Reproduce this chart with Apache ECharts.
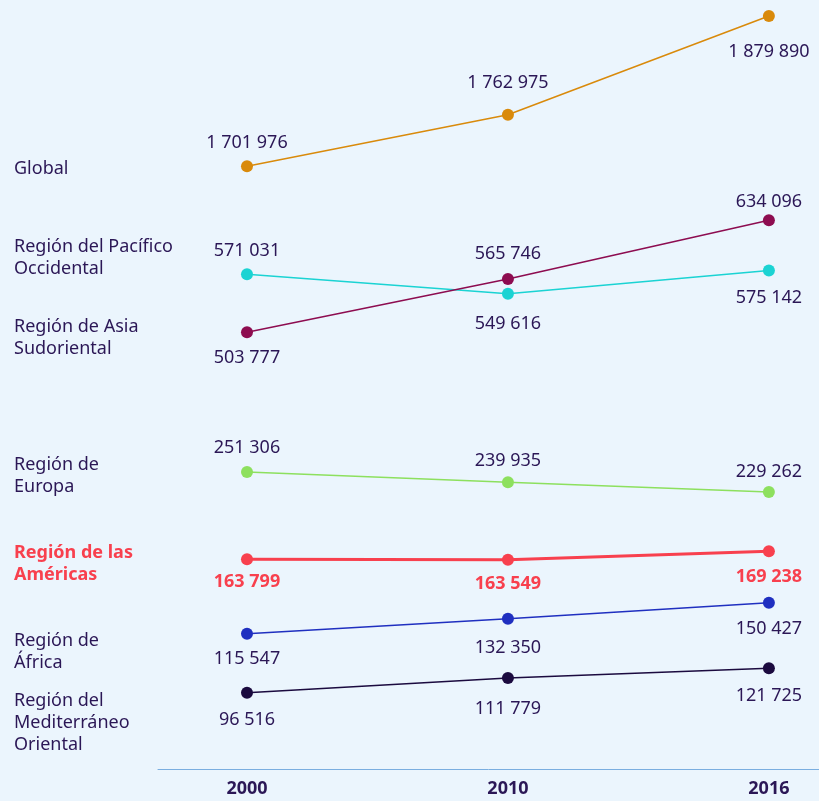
<!DOCTYPE html>
<html>
<head>
<meta charset="utf-8">
<script src="https://cdn.jsdelivr.net/npm/echarts@6/dist/echarts.min.js"></script>
<style>
    html, body { margin: 0; padding: 0; background: #ebf5fd; }
    #chart { width: 819px; height: 801px; }
</style>
</head>
<body>
<div id="chart"></div>
<script>
    // datos
    var years = ['2000', '2010', '2016'];
    var regions = [
        'Global',
        'Región del Pacífico\nOccidental',
        'Región de Asia\nSudoriental',
        'Región de\nEuropa',
        'Región de las\nAméricas',
        'Región de\nÁfrica',
        'Región del\nMediterráneo\nOriental'
    ];
    var globalVals = [1701976, 1762975, 1879890];
    var pacificoVals = [571031, 549616, 575142];
    var asiaVals = [503777, 565746, 634096];
    var europaVals = [251306, 239935, 229262];
    var americasVals = [163799, 163549, 169238];
    var africaVals = [115547, 132350, 150427];
    var mediterraneoVals = [96516, 111779, 121725];

    // layout: cada serie tiene su propio eje (escala partida)
    var colors = ['#d98a0b', '#1bd3d3', '#8d0c50', '#8de05e', '#f8404e', '#1f2fc0', '#1b0a3f'];
    var axisRange = [
        [988560, 1898825],
        [24882, 873858],
        [-4369, 890439],
        [-76047, 771545],
        [21203, 544123],
        [-36693, 828586],
        [17683, 812214]
    ];
    var labelDy = [
        [-23, -32, 36],
        [-23, 30, 27],
        [26, -25, -18],
        [-24, -21, -20],
        [23, 24, 26],
        [25, 29, 26],
        [27, 31, 28]
    ];
    var nameTop = [158, 236, 316, 454, 542, 630, 690];

    var allVals = [globalVals, pacificoVals, asiaVals, europaVals, americasVals, africaVals, mediterraneoVals];
    var textColor = '#2b1756';

    var fmt = function (v) {
        return String(v).replace(/\B(?=(\d{3})+(?!\d))/g, ' ');
    };

    var myChart = echarts.init(document.getElementById('chart'));

    var yAxes = [];
    var series = [];
    var graphics = [];
    for (var i = 0; i < allVals.length; i++) {
        var hl = (i === 4);
        yAxes.push({
            type: 'value',
            show: false,
            min: axisRange[i][0],
            max: axisRange[i][1]
        });
        var data = [];
        for (var j = 0; j < years.length; j++) {
            data.push({
                value: [j, allVals[i][j]],
                label: {offset: [0, labelDy[i][j]]}
            });
        }
        series.push({
            type: 'line',
            name: regions[i],
            yAxisIndex: i,
            data: data,
            symbol: 'circle',
            symbolSize: 12,
            silent: true,
            animation: false,
            itemStyle: {color: colors[i]},
            lineStyle: {color: colors[i], width: hl ? 3 : 1.5},
            label: {
                show: true,
                position: 'inside',
                fontFamily: 'Noto Sans',
                fontSize: 18,
                fontWeight: hl ? 'bold' : 'normal',
                color: hl ? colors[i] : textColor,
                formatter: function (p) {
                    return fmt(p.value[1]);
                }
            }
        });
        graphics.push({
            type: 'text',
            left: 14,
            top: nameTop[i],
            style: {
                text: regions[i],
                fill: hl ? colors[i] : textColor,
                font: (hl ? 'bold ' : '') + '18px "Noto Sans"',
                lineHeight: 22
            }
        });
    }

    var option = {
        backgroundColor: '#ebf5fd',
        animation: false,
        grid: {
            left: 158,
            right: 0,
            top: 0,
            bottom: 32
        },
        xAxis: {
            type: 'value',
            min: -0.341,
            max: 2.192,
            splitLine: {show: false},
            axisTick: {show: false},
            axisLine: {show: true, onZero: false, lineStyle: {color: '#7aaee0', width: 1}},
            axisLabel: {
                customValues: [0, 1, 2],
                margin: 11,
                fontFamily: 'Noto Sans',
                fontSize: 18,
                fontWeight: 'bold',
                color: textColor,
                formatter: function (v) {
                    return years[Math.round(v)];
                }
            }
        },
        yAxis: yAxes,
        graphic: graphics,
        series: series
    };
    myChart.setOption(option);
</script>
</body>
</html>
